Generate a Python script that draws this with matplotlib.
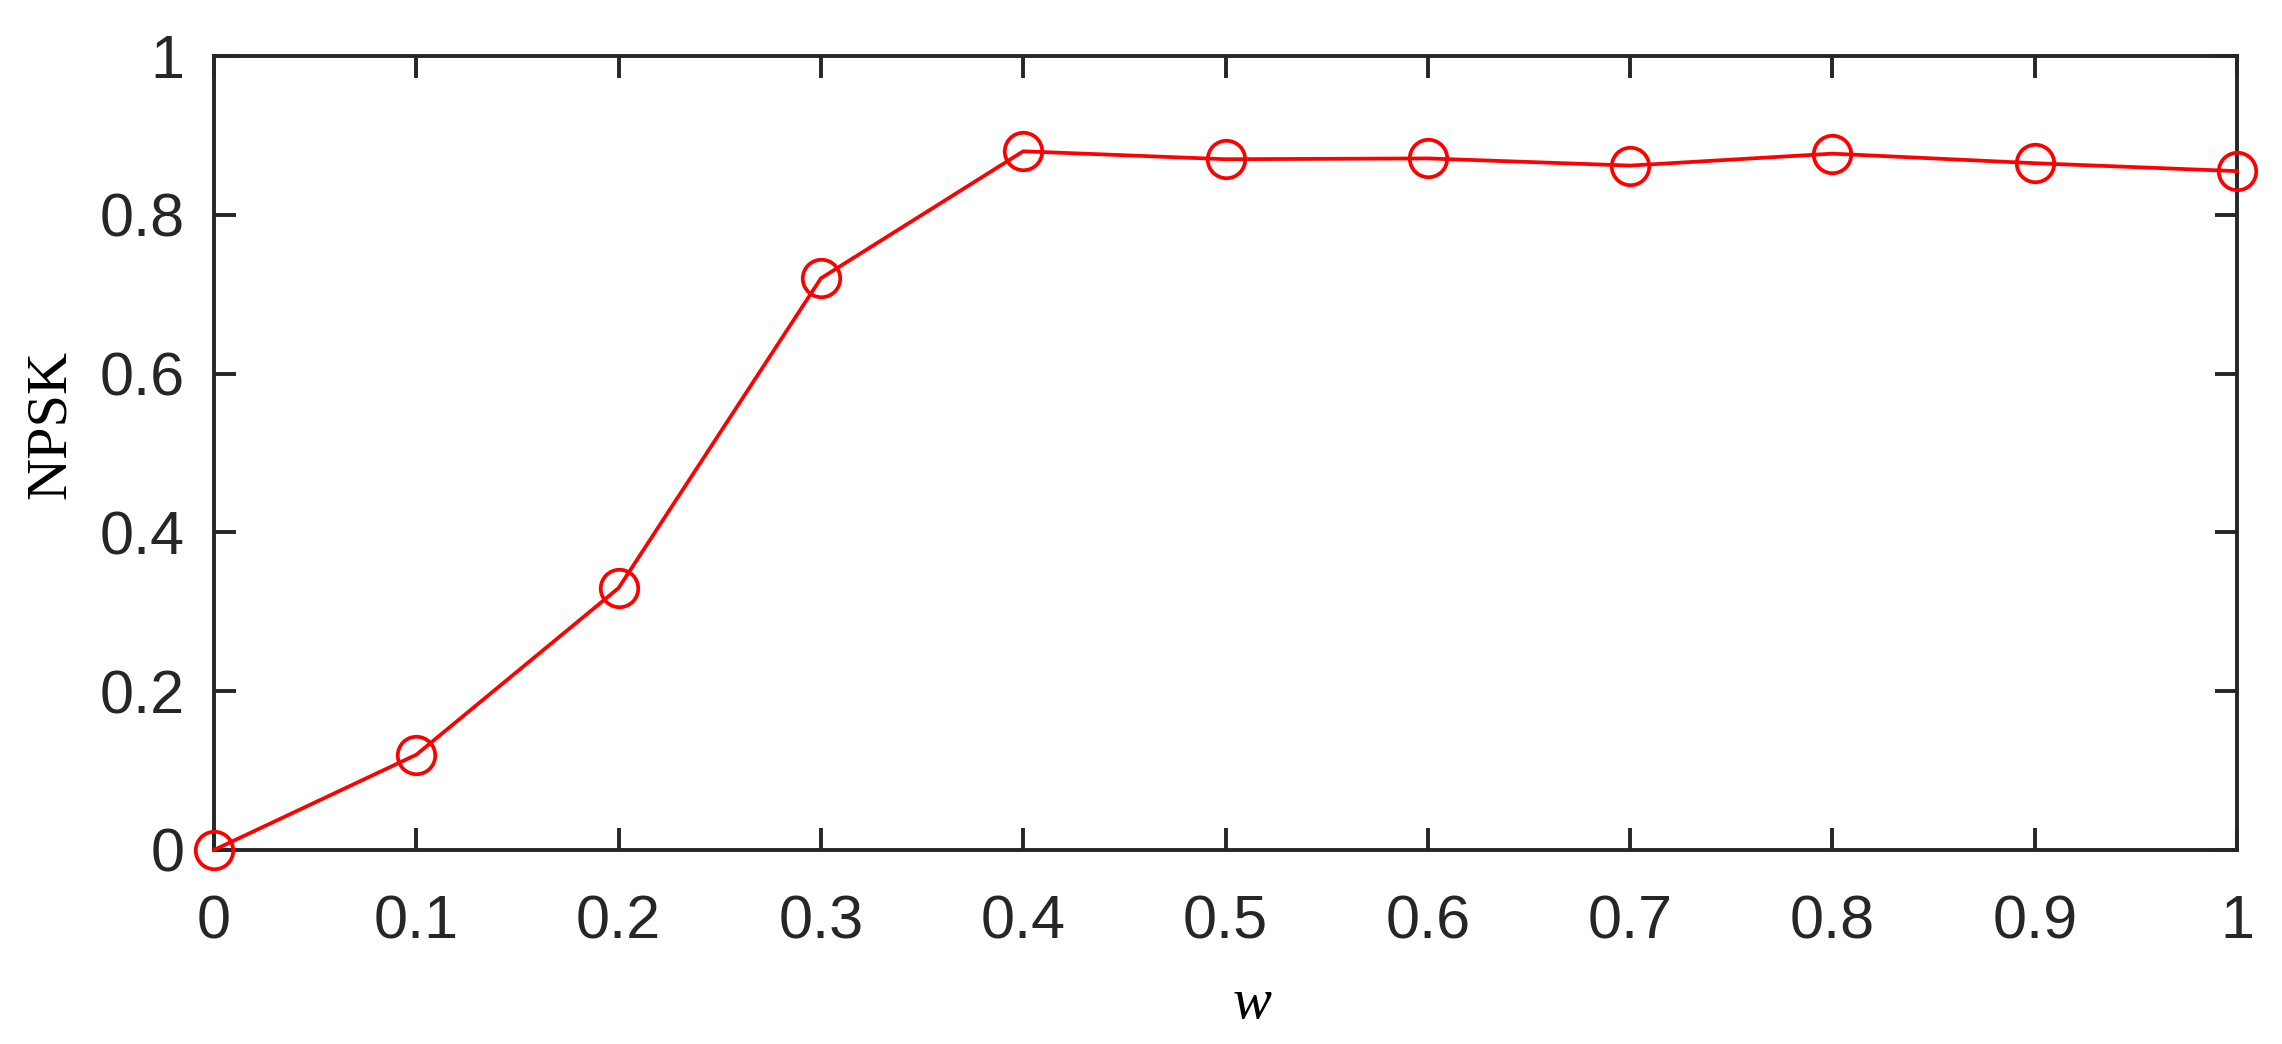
import matplotlib
matplotlib.use("Agg")
import matplotlib.pyplot as plt

w_values = [0.0, 0.1, 0.2, 0.3, 0.4, 0.5, 0.6, 0.7, 0.8, 0.9, 1.0]
npsk_values = [0.0, 0.12, 0.33, 0.72, 0.88, 0.870, 0.871, 0.862, 0.877, 0.865, 0.855]
x_ticks = [0, 0.1, 0.2, 0.3, 0.4, 0.5, 0.6, 0.7, 0.8, 0.9, 1]
x_tick_labels = ["0", "0.1", "0.2", "0.3", "0.4", "0.5", "0.6", "0.7", "0.8", "0.9", "1"]
y_ticks = [0, 0.2, 0.4, 0.6, 0.8, 1]
y_tick_labels = ["0", "0.2", "0.4", "0.6", "0.8", "1"]

W, H = 2282, 1044
fig = plt.figure(figsize=(W / 100, H / 100), dpi=100)
left, right, top, bottom = 214, 2237, 56, 850
ax = fig.add_axes([left / W, (H - bottom) / H, (right - left) / W, (bottom - top) / H])

ax.plot(w_values, npsk_values, color="#ff0000", linewidth=2.7, marker="o",
        markersize=27, markerfacecolor="none", markeredgecolor="#ff0000",
        markeredgewidth=2.7, clip_on=False, zorder=3)

ax.set_xlim(0, 1)
ax.set_ylim(0, 1)
ax.set_xticks(x_ticks)
ax.set_xticklabels(x_tick_labels)
ax.set_yticks(y_ticks)
ax.set_yticklabels(y_tick_labels)

dark = "#262626"
for s in ax.spines.values():
    s.set_linewidth(2.8)
    s.set_color(dark)

ax.tick_params(axis="both", which="both", direction="in", length=16, width=2.8,
               color=dark, labelcolor=dark, top=True, right=True, labelsize=44)
ax.tick_params(axis="x", pad=32)
ax.tick_params(axis="y", pad=21)
for lab in ax.get_xticklabels() + ax.get_yticklabels():
    lab.set_fontfamily("Liberation Sans")

ax.set_ylabel("NPSK", fontsize=42, fontfamily="Liberation Serif", color="black")
ax.yaxis.label.set_va("center")
ax.yaxis.set_label_coords((51 - left) / (right - left), (bottom - 424) / (bottom - top))

ax.set_xlabel("w", fontsize=42, fontfamily="Liberation Serif", fontstyle="italic", color="black")
ax.xaxis.label.set_va("baseline")
ax.xaxis.set_label_coords((1252 - left) / (right - left), (bottom - 1018) / (bottom - top))

fig.savefig("out.png", dpi=100, facecolor="white")
